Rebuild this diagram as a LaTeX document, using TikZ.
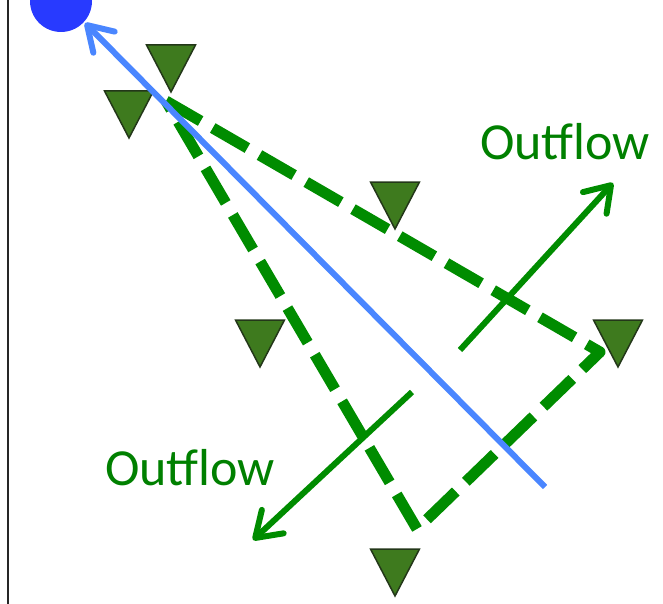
\documentclass[tikz,border=0pt]{standalone}
\usepackage{fontspec}
\setmainfont{Carlito}
\usetikzlibrary{arrows.meta,calc}
\definecolor{lgreen}{RGB}{0,140,0}
\definecolor{tgreen}{RGB}{0,128,0}
\definecolor{triFill}{RGB}{62,122,30}
\definecolor{triEdge}{RGB}{35,55,25}
\definecolor{lblue}{RGB}{74,134,255}
\definecolor{dblue}{RGB}{40,58,255}
\tikzset{
  tri/.style={fill=triFill,draw=triEdge,line width=1.5pt,line join=miter},
  flowdash/.style={draw=lgreen,line width=11pt,dash pattern=on 40pt off 14pt,line join=round},
  flowarrow/.style={draw=lgreen,line width=6pt,-{Straight Barb[length=24pt,width=32pt,round]}},
  modelarrow/.style={draw=lblue,line width=6pt,-{Straight Barb[length=24pt,width=30pt,round]}},
  lbl/.style={text=tgreen,font=\fontsize{52}{62}\selectfont,inner sep=0pt,anchor=base},
}
\newcommand\downtri[1]{\path[tri] ($(#1)+(-24.5,0)$) -- ($(#1)+(24.5,0)$) -- ($(#1)+(0,47)$) -- cycle;}
\begin{document}
\begin{tikzpicture}[x=1pt,y=-1pt]
\useasboundingbox (0,0) rectangle (663,604);
\clip (0,0) rectangle (663,604);
% left border
\coordinate (lt) at (8,0);
\coordinate (lb) at (8,604);
\draw[line width=2.5pt,draw=black!85] (lt) -- (lb);
% stations
\coordinate (t1) at (171,45);
\coordinate (t2) at (129,91);
\coordinate (t3) at (395,182);
\coordinate (t4) at (618,320);
\coordinate (t5) at (260,320);
\coordinate (t6) at (395,549);
\downtri{t1}\downtri{t2}\downtri{t3}\downtri{t4}\downtri{t5}\downtri{t6}
% dashed triangle
\coordinate (apex) at (166,101);
\coordinate (cr) at (600,352);
\coordinate (cb) at (417,529);
\draw[flowdash] (apex) -- (cr) -- (cb) -- cycle;
% outflow arrows
\coordinate (o1s) at (460,350);
\coordinate (o1e) at (613,183);
\coordinate (o2s) at (412,392);
\coordinate (o2e) at (253,540);
\draw[flowarrow] (o1s) -- (o1e);
\draw[flowarrow] (o2s) -- (o2e);
% blue circle and arrow
\node[circle,fill=dblue,inner sep=0pt,minimum size=62pt] (src) at (61,1) {};
\coordinate (bs) at (545,487);
\coordinate (be) at (85,23);
\draw[modelarrow] (bs) -- (be);
% labels
\node[lbl] (lab1) at (565,160) {Outflow};
\node[lbl] (lab2) at (190,485) {Outflow};
\end{tikzpicture}
\end{document}
